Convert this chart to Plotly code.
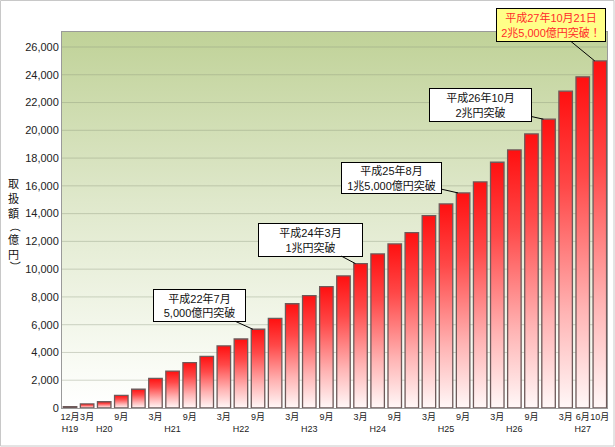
import plotly.graph_objects as go

# Quarterly transaction amount (100 million yen), Dec 2007 .. Jun 2015, then Oct 2015
months = ["12月", "3月", "", "9月", "", "3月", "", "9月", "", "3月", "", "9月",
          "", "3月", "", "9月", "", "3月", "", "9月", "", "3月", "", "9月",
          "", "3月", "", "9月", "", "3月", "6月", "10月"]
years = ["H19", "", "H20", "", "", "", "H21", "", "", "", "H22", "",
         "", "", "H23", "", "", "", "H24", "", "", "", "H25", "",
         "", "", "H26", "", "", "", "H27", ""]
amounts = [100, 290, 450, 910, 1350, 2140, 2660, 3270, 3720, 4470, 4970, 5670,
           6460, 7510, 8090, 8740, 9510, 10400, 11100, 11820, 12630, 13850, 14700, 15490,
           16280, 17700, 18590, 19740, 20800, 22820, 23850, 25000]

# callouts: bar index, text
callout_bars = [11, 17, 23, 28, 31]
callout_texts = ["平成22年7月<br>5,000億円突破",
                 "平成24年3月<br>1兆円突破",
                 "平成25年8月<br>1兆5,000億円突破",
                 "平成26年10月<br>2兆円突破",
                 "平成27年10月21日<br>2兆5,000億円突破！"]

y_title = ["取", "扱", "額", "（", "億", "円", "）"]
y_ticks = list(range(0, 26001, 2000))

FONT = "Liberation Sans, Noto Sans CJK JP, sans-serif"
X_RANGE = [-0.47, 31.42]
Y_MAX = 27080
BAR_W = 0.79

fig = go.Figure()

# plot-area background: green at top fading to white
fig.add_trace(go.Scatter(
    x=[X_RANGE[0], X_RANGE[1], X_RANGE[1], X_RANGE[0], X_RANGE[0]],
    y=[0, 0, Y_MAX, Y_MAX, 0],
    mode="none", fill="toself",
    fillgradient=dict(type="vertical",
                      colorscale=[[0, "#ffffff"], [0.1, "#fafcf6"], [0.55, "#dfe8cb"], [1, "#c0d298"]]),
    hoverinfo="skip", showlegend=False,
))

# horizontal grid lines
gx, gy = [], []
for v in y_ticks[1:]:
    gx += [X_RANGE[0], X_RANGE[1], None]
    gy += [v, v, None]
fig.add_trace(go.Scatter(x=gx, y=gy, mode="lines",
                         line=dict(color="rgba(130,140,115,0.35)", width=1),
                         hoverinfo="skip", showlegend=False))

# bars with a red-to-white vertical gradient
for i, v in enumerate(amounts):
    x0, x1 = i - BAR_W / 2, i + BAR_W / 2
    fig.add_trace(go.Scatter(
        x=[x0, x1, x1, x0, x0], y=[0, 0, v, v, 0],
        mode="lines", fill="toself",
        line=dict(color="#6e5a5a", width=1.3),
        fillgradient=dict(type="vertical",
                          colorscale=[[0, "#fff8f8"], [0.3, "#ffb4b4"], [0.7, "#ff4848"], [1, "#ff1010"]]),
        hovertemplate=f"{v:,}億円<extra></extra>", showlegend=False,
    ))

# callout boxes
offsets = [(-53, -24), (-45, -24), (-66, -15), (-63, -14), (-44, -36)]
sizes = [(87, 27), (99, 28), (95, 26), (97, 28), (104, 28)]
for k, (i, txt) in enumerate(zip(callout_bars, callout_texts)):
    last = k == len(callout_bars) - 1
    fig.add_annotation(
        x=i - 0.3, y=amounts[i], xref="x", yref="y",
        text=txt, showarrow=True, arrowhead=0, arrowwidth=1, arrowcolor="#000",
        ax=offsets[k][0], ay=offsets[k][1],
        width=sizes[k][0], height=sizes[k][1],
        bgcolor="#ffff88" if last else "#ffffff",
        bordercolor="#000", borderwidth=1, borderpad=2,
        font=dict(family=FONT, size=11, color="#ff2a2a" if last else "#111"),
    )

# y-axis title, written vertically one character at a time (brackets turned)
title_px = [183, 198, 213, 226, 239, 254, 266]
for ch, py in zip(y_title, title_px):
    fig.add_annotation(
        x=-56 / 545, y=(408 - py) / 376, xref="paper", yref="paper",
        text=ch, showarrow=False, textangle=90 if ch in "（）" else 0,
        font=dict(family="Noto Sans CJK JP", size=11, color="#111"),
    )

# thin frame around the whole picture
fig.add_shape(type="rect", xref="paper", yref="paper",
              x0=-61.5 / 545, x1=1 + 7 / 545, y0=-38 / 376, y1=1 + 31.5 / 376,
              line=dict(color="#c8c8c8", width=1))

fig.update_xaxes(
    range=X_RANGE, showgrid=False, zeroline=False, automargin=False,
    tickvals=list(range(len(amounts))), tickangle=0,
    ticktext=[f"{m or '&nbsp;'}<br>{y or '&nbsp;'}" for m, y in zip(months, years)],
    tickfont=dict(family=FONT, size=9, color="#222"),
    ticks="", showline=True, linecolor="#9a9a9a", linewidth=1, mirror=True,
)
fig.update_yaxes(
    range=[0, Y_MAX], showgrid=False, zeroline=False, automargin=False,
    tickvals=y_ticks, tickformat=",d",
    tickfont=dict(family=FONT, size=11, color="#222"),
    ticks="", showline=True, linecolor="#9a9a9a", linewidth=1, mirror=True,
)

fig.update_layout(
    width=615, height=447,
    margin=dict(l=62, r=8, t=32, b=39),
    paper_bgcolor="white", plot_bgcolor="white",
    font=dict(family=FONT),
    showlegend=False,
)

fig.write_html("out.html", config={"displayModeBar": False},
               post_script="document.body.style.margin='0';")
